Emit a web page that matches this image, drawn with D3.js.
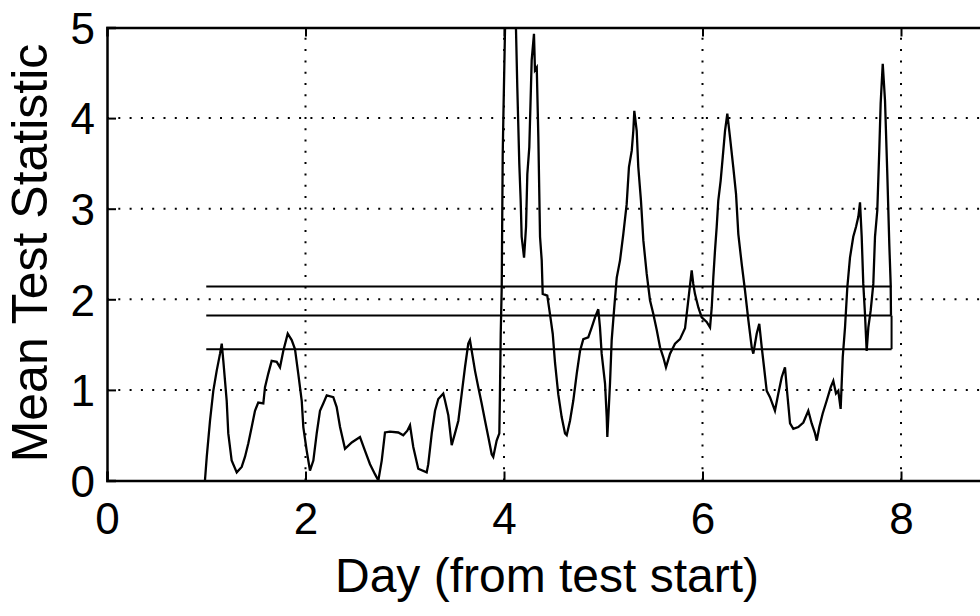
<!DOCTYPE html>
<html><head><meta charset="utf-8">
<script src="https://cdn.jsdelivr.net/npm/d3@7"></script>
<style>
html,body{margin:0;padding:0;background:#fff;}
svg{display:block;}
text{font-family:"Liberation Sans",Arial,sans-serif;fill:#000;}
</style></head>
<body>
<svg id="chart" width="980" height="616"></svg>
<script>
// ---- data ----
const days = [0.987,1.005,1.038,1.071,1.105,1.139,1.156,1.172,1.206,1.222,1.256,1.307,1.357,1.390,1.424,1.458,1.491,1.524,1.575,1.592,1.625,1.659,1.710,1.743,1.776,1.821,1.861,1.894,1.927,1.962,1.978,2.012,2.045,2.079,2.113,2.146,2.179,2.214,2.280,2.314,2.348,2.398,2.466,2.549,2.599,2.650,2.700,2.734,2.768,2.801,2.851,2.935,2.985,3.026,3.053,3.086,3.136,3.221,3.237,3.272,3.305,3.338,3.388,3.406,3.439,3.473,3.506,3.540,3.574,3.607,3.640,3.657,3.675,3.708,3.741,3.775,3.809,3.842,3.876,3.892,3.926,3.953,3.960,3.967,3.977,3.987,3.993,4.010,4.050,4.100,4.121,4.134,4.154,4.168,4.178,4.202,4.222,4.235,4.255,4.279,4.302,4.312,4.330,4.346,4.363,4.380,4.390,4.436,4.463,4.491,4.514,4.547,4.581,4.615,4.632,4.665,4.698,4.733,4.766,4.799,4.849,4.884,4.917,4.950,4.967,4.984,5.018,5.035,5.041,5.051,5.068,5.085,5.111,5.136,5.169,5.202,5.236,5.259,5.287,5.303,5.313,5.337,5.353,5.380,5.404,5.438,5.471,5.504,5.539,5.572,5.605,5.632,5.673,5.723,5.773,5.824,5.857,5.891,5.907,5.924,5.958,5.992,6.042,6.076,6.093,6.109,6.126,6.143,6.159,6.183,6.204,6.227,6.250,6.277,6.310,6.338,6.361,6.395,6.428,6.462,6.496,6.512,6.546,6.572,6.597,6.620,6.647,6.680,6.730,6.764,6.798,6.831,6.854,6.882,6.915,6.965,7.016,7.066,7.100,7.134,7.151,7.177,7.211,7.251,7.292,7.318,7.345,7.368,7.392,7.413,7.436,7.459,7.486,7.519,7.547,7.570,7.587,7.604,7.620,7.637,7.654,7.671,7.695,7.721,7.738,7.761,7.781,7.795,7.816,7.839,7.862,7.882,7.896,7.899];
const meanStat = [0,0.26,0.66,0.99,1.21,1.40,1.51,1.32,0.88,0.52,0.22,0.09,0.15,0.26,0.41,0.59,0.77,0.86,0.85,1.03,1.18,1.32,1.31,1.25,1.43,1.62,1.55,1.45,1.18,0.88,0.59,0.33,0.11,0.22,0.52,0.77,0.85,0.94,0.92,0.81,0.59,0.35,0.42,0.48,0.33,0.18,0.07,0.0,0.22,0.53,0.54,0.53,0.50,0.55,0.61,0.37,0.13,0.09,0.18,0.52,0.77,0.90,0.96,0.88,0.72,0.39,0.52,0.66,0.96,1.25,1.51,1.55,1.43,1.21,1.03,0.85,0.66,0.48,0.29,0.26,0.44,0.52,1.03,1.62,2.13,3.60,3.97,4.97,5.6,5.5,4.97,4.34,3.50,3.09,2.69,2.46,2.80,3.38,3.68,4.64,4.93,4.53,4.56,3.79,2.69,2.43,2.06,2.04,1.84,1.62,1.30,0.95,0.70,0.52,0.50,0.66,0.88,1.18,1.43,1.56,1.58,1.69,1.80,1.89,1.69,1.40,1.07,0.70,0.48,0.70,1.07,1.55,1.91,2.24,2.43,2.72,3.05,3.46,3.64,3.86,4.08,3.86,3.46,3.09,2.65,2.28,1.99,1.84,1.66,1.47,1.36,1.25,1.40,1.51,1.56,1.68,1.99,2.32,2.17,2.06,1.91,1.80,1.75,1.69,1.91,2.24,2.54,2.80,3.09,3.31,3.57,3.86,4.05,3.79,3.46,3.16,2.72,2.39,2.10,1.77,1.47,1.40,1.62,1.73,1.47,1.25,0.99,0.92,0.77,0.96,1.14,1.25,0.96,0.63,0.57,0.59,0.64,0.77,0.63,0.52,0.44,0.59,0.74,0.88,1.03,1.10,0.96,0.99,0.79,1.36,1.69,2.13,2.46,2.69,2.80,2.91,3.07,2.69,2.17,1.84,1.43,1.69,1.88,2.17,2.69,2.98,3.64,4.16,4.60,4.19,3.38,2.61,2.17,1.82];
const thresholds = [2.14, 1.82, 1.45];
const thresholdStart = 1.0;
const thresholdEnd = 7.905;
const xTicks = [0, 2, 4, 6, 8];
const yTicks = [0, 1, 2, 3, 4, 5];
const xGrid = [2, 4, 6, 8];
const yGrid = [1, 2, 3, 4];
const xTitle = "Day (from test start)";
const yTitle = "Mean Test Statistic";

// ---- layout ----
const svg = d3.select("#chart");
const x = d3.scaleLinear().domain([0, 9]).range([107, 1000.25]);
const y = d3.scaleLinear().domain([0, 5]).range([480.5, 27.5]);

const defs = svg.append("defs");
defs.append("clipPath").attr("id", "plotclip").append("rect")
  .attr("x", x(0)).attr("y", y(5)).attr("width", x(9) - x(0)).attr("height", y(0) - y(5));

// grid
const grid = svg.append("g").attr("stroke", "#000").attr("stroke-width", 2).attr("stroke-dasharray", "2 9.3");
grid.selectAll("line.v").data(xGrid).join("line").attr("class", "v")
  .attr("x1", d => x(d)).attr("x2", d => x(d)).attr("y1", y(0)).attr("y2", y(5));
grid.selectAll("line.h").data(yGrid).join("line").attr("class", "h")
  .attr("x1", x(0)).attr("x2", x(9)).attr("y1", d => y(d)).attr("y2", d => y(d));

// thresholds
const thr = svg.append("g").attr("stroke", "#000").attr("stroke-width", 2).attr("fill", "none");
thr.selectAll("line.t").data(thresholds).join("line").attr("class", "t")
  .attr("x1", x(thresholdStart)).attr("x2", x(thresholdEnd))
  .attr("y1", d => y(d)).attr("y2", d => y(d));
thr.append("line")
  .attr("x1", x(thresholdEnd)).attr("x2", x(thresholdEnd))
  .attr("y1", y(thresholds[1])).attr("y2", y(thresholds[2]));

// data line
const pts = days.map((d, i) => [d, meanStat[i]]);
svg.append("path").datum(pts)
  .attr("clip-path", "url(#plotclip)")
  .attr("fill", "none").attr("stroke", "#000").attr("stroke-width", 2.3)
  .attr("stroke-linejoin", "miter")
  .attr("d", d3.line().x(d => x(d[0])).y(d => y(d[1])));

// axes
const xAxis = d3.axisBottom(x).tickValues(xTicks).tickSize(-9).tickPadding(22).tickFormat(d3.format("d"));
const gx = svg.append("g").attr("transform", `translate(0,${y(0)})`).call(xAxis);
const yAxis = d3.axisLeft(y).tickValues(yTicks).tickSize(-9).tickPadding(12).tickFormat(d3.format("d"));
const gy = svg.append("g").attr("transform", `translate(${x(0)},0)`).call(yAxis);
const xTop = d3.axisTop(x).tickValues(xGrid).tickSize(-9).tickFormat("");
const gt = svg.append("g").attr("transform", `translate(0,${y(5)})`).call(xTop);
[gx, gy, gt].forEach(g => {
  g.select(".domain").attr("stroke", "#000").attr("stroke-width", 2.5);
  g.selectAll(".tick line").attr("stroke", "#000").attr("stroke-width", 2);
  g.selectAll(".tick text").style("font-family", '"Liberation Sans",Arial,sans-serif')
    .style("font-size", "44px").attr("fill", "#000");
});
gy.selectAll(".tick text").attr("dy", "0.36em");

// titles
svg.append("text").attr("x", 547).attr("y", 592).attr("text-anchor", "middle")
  .style("font-size", "48px").text(xTitle);
svg.append("text").attr("transform", "translate(47,253) rotate(-90)").attr("text-anchor", "middle")
  .style("font-size", "50px").text(yTitle);
</script>
</body></html>
